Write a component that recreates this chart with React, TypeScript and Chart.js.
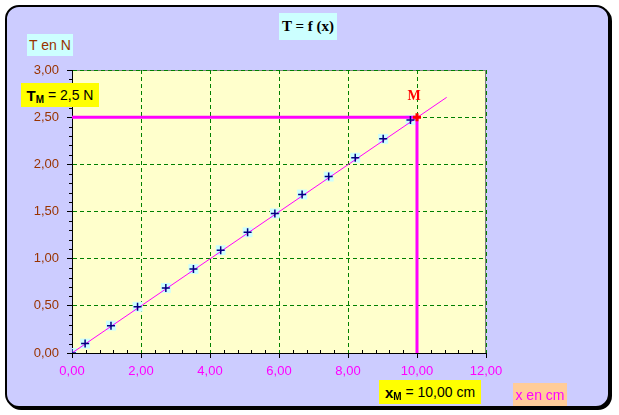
import React, { useEffect, useRef } from "react";
import { Chart, registerables } from "chart.js";

Chart.register(...registerables);

// ---- data ----
const xValues = [0, 0.38, 1.13, 1.9, 2.72, 3.52, 4.31, 5.09, 5.88, 6.67, 7.44, 8.21, 9.02, 9.81];
const tValues = [0, 0.1, 0.29, 0.49, 0.69, 0.89, 1.09, 1.28, 1.48, 1.68, 1.87, 2.07, 2.27, 2.47];
const fitX = [0, 10.86];
const fitT = [0, 2.71];
const pointMx = 10;
const pointMt = 2.5;
const xMin = 0;
const xMax = 12;
const xStep = 2;
const xMinorStep = 0.4;
const yMin = 0;
const yMax = 3;
const yStep = 0.5;
const yMinorStep = 0.1;
const titleText = "T = f (x)";
const yAxisTitle = "T en N";
const xAxisTitle = "x en cm";
const tmLabel = "= 2,5 N";
const xmLabel = "= 10,00 cm";
const mLabel = "M";

const fmt = (v: number) => Number(v).toFixed(2).replace(".", ",");

const decorPlugin = {
  id: "decor",
  beforeDraw(chart: any) {
    const { ctx, chartArea: a } = chart;
    ctx.save();
    ctx.fillStyle = "#FFFFCC";
    ctx.fillRect(a.left, a.top, a.right - a.left, a.bottom - a.top);
    ctx.strokeStyle = "#808080";
    ctx.lineWidth = 1;
    ctx.beginPath();
    ctx.moveTo(a.left, Math.round(a.top) + 0.5);
    ctx.lineTo(a.right, Math.round(a.top) + 0.5);
    ctx.stroke();
    ctx.restore();
  },
  beforeDatasetsDraw(chart: any) {
    const { ctx, chartArea: a, scales } = chart;
    const xs = scales.x;
    const ys = scales.y;
    ctx.save();
    ctx.strokeStyle = "#808080";
    ctx.lineWidth = 1;
    ctx.beginPath();
    ctx.moveTo(Math.round(a.right) - 0.5, a.top);
    ctx.lineTo(Math.round(a.right) - 0.5, a.bottom);
    ctx.stroke();
    ctx.strokeStyle = "#000";
    ctx.beginPath();
    const nY = Math.round((yMax - yMin) / yMinorStep);
    const perY = Math.round(yStep / yMinorStep);
    for (let i = 0; i <= nY; i++) {
      if (i % perY === 0) continue;
      const py = Math.round(ys.getPixelForValue(yMin + i * yMinorStep)) + 0.5;
      ctx.moveTo(a.left - 3, py);
      ctx.lineTo(a.left, py);
    }
    const nX = Math.round((xMax - xMin) / xMinorStep);
    const perX = Math.round(xStep / xMinorStep);
    for (let i = 0; i <= nX; i++) {
      if (i % perX === 0) continue;
      const px = Math.round(xs.getPixelForValue(xMin + i * xMinorStep)) + 0.5;
      ctx.moveTo(px, a.bottom - 3);
      ctx.lineTo(px, a.bottom);
    }
    ctx.stroke();
    ctx.restore();
  },
  afterDatasetsDraw(chart: any) {
    const { ctx, scales } = chart;
    const px = scales.x.getPixelForValue(pointMx);
    const py = scales.y.getPixelForValue(pointMt);
    ctx.save();
    ctx.fillStyle = "#FF0000";
    ctx.font = "bold 14px 'Liberation Serif', 'Times New Roman', serif";
    ctx.textAlign = "center";
    ctx.textBaseline = "alphabetic";
    ctx.fillText(mLabel, px - 3, py - 17);
    ctx.restore();
  },
};

export default function App() {
  const canvasRef = useRef<HTMLCanvasElement | null>(null);

  useEffect(() => {
    const canvas = canvasRef.current;
    if (!canvas) return;
    const pts = xValues.map((x, i) => ({ x, y: tValues[i] }));
    const pts2 = xValues.map((x, i) => ({ x, y: tValues[i] }));
    const fit = fitX.map((x, i) => ({ x, y: fitT[i] }));
    const guide = [
      { x: xMin, y: pointMt },
      { x: pointMx, y: pointMt },
      { x: pointMx, y: yMin },
    ];
    const tickFont = { family: "'Liberation Sans', Arial, sans-serif", size: 13 };
    const chart = new Chart(canvas, {
      type: "scatter",
      data: {
        datasets: [
          {
            data: [{ x: pointMx, y: pointMt }],
            pointStyle: "cross",
            pointRadius: 4,
            pointBorderColor: "#FF0000",
            pointBorderWidth: 3,
            backgroundColor: "rgba(0,0,0,0)",
            fill: false,
            order: 1,
          } as any,
          {
            data: pts,
            pointStyle: "cross",
            pointRadius: 4,
            pointBorderColor: "#000080",
            pointBorderWidth: 1.5,
            backgroundColor: "rgba(0,0,0,0)",
            fill: false,
            order: 2,
          },
          {
            data: guide,
            showLine: true,
            fill: false,
            pointRadius: 0,
            borderColor: "#FF00FF",
            backgroundColor: "rgba(0,0,0,0)",
            borderWidth: 3,
            clip: false,
            order: 3,
          },
          {
            data: fit,
            showLine: true,
            fill: false,
            pointRadius: 0,
            borderColor: "#FF00FF",
            backgroundColor: "rgba(0,0,0,0)",
            borderWidth: 1,
            order: 4,
          },
          {
            data: pts2,
            pointStyle: "rect",
            pointRadius: 7,
            pointBackgroundColor: "#CCFFFF",
            pointBorderColor: "rgba(0,0,0,0)",
            pointBorderWidth: 0,
            backgroundColor: "#CCFFFF",
            fill: false,
            order: 5,
          },
        ],
      },
      options: {
        responsive: false,
        animation: false,
        events: [],
        layout: { padding: { left: 0, top: 70, right: 133, bottom: 0 } },
        plugins: {
          legend: { display: false },
          tooltip: { enabled: false },
          title: { display: false },
        },
        scales: {
          x: {
            type: "linear",
            min: xMin,
            max: xMax,
            afterFit: (s: any) => {
              s.height = 62;
            },
            grid: {
              color: "#008000",
              lineWidth: 1,
              tickLength: 5,
              tickColor: "#000",
              tickWidth: 1,
              tickBorderDash: [],
            },
            border: { display: true, color: "#000", width: 1, dash: [4, 3] },
            ticks: {
              stepSize: xStep,
              color: "#FF00FF",
              font: tickFont,
              padding: 6,
              maxRotation: 0,
              autoSkip: false,
              callback: (v: any) => fmt(v),
            },
          },
          y: {
            type: "linear",
            min: yMin,
            max: yMax,
            afterFit: (s: any) => {
              s.width = 72;
            },
            grid: {
              color: "#008000",
              lineWidth: 1,
              tickLength: 5,
              tickColor: "#000",
              tickWidth: 1,
              tickBorderDash: [],
            },
            border: { display: true, color: "#000", width: 1, dash: [4, 3] },
            ticks: {
              stepSize: yStep,
              color: "#993300",
              font: tickFont,
              padding: 8,
              autoSkip: false,
              callback: (v: any) => fmt(v),
            },
          },
        },
      } as any,
      plugins: [decorPlugin],
    });
    return () => chart.destroy();
  }, []);

  const box = (extra: React.CSSProperties): React.CSSProperties => ({
    position: "absolute",
    boxSizing: "border-box",
    display: "flex",
    alignItems: "center",
    justifyContent: "center",
    whiteSpace: "nowrap",
    fontFamily: "'Liberation Sans', Arial, sans-serif",
    ...extra,
  });

  return (
    <div style={{ position: "fixed", left: 0, top: 0, width: 619, height: 415, overflow: "hidden" }}>
      <div
        style={{
          position: "absolute",
          left: 5,
          top: 5,
          width: 605,
          height: 403,
          boxSizing: "border-box",
          border: "2px solid #000",
          borderRadius: 14,
          background: "#CCCCFF",
          boxShadow: "2px 2px 0 #000",
        }}
      />
      <canvas
        ref={canvasRef}
        width={619}
        height={415}
        style={{ position: "absolute", left: 0, top: 0, width: 619, height: 415 }}
      />
      <div
        style={box({
          left: 279,
          top: 13,
          width: 58,
          height: 27,
          background: "#CCFFFF",
          fontFamily: "'Liberation Serif', 'Times New Roman', serif",
          fontWeight: "bold",
          fontSize: 15,
          color: "#000",
        })}
      >
        {titleText}
      </div>
      <div
        style={box({
          left: 27,
          top: 34,
          width: 46,
          height: 22,
          background: "#CCFFFF",
          fontSize: 14,
          color: "#993300",
        })}
      >
        {yAxisTitle}
      </div>
      <div
        style={box({
          left: 21,
          top: 83,
          width: 78,
          height: 24,
          background: "#FFFF00",
          fontSize: 14,
          color: "#000",
        })}
      >
        <span style={{ fontWeight: "bold", fontSize: 15 }}>T</span>
        <span style={{ fontWeight: "bold", fontSize: 10, position: "relative", top: 4 }}>M</span>
        <span>&nbsp;{tmLabel}</span>
      </div>
      <div
        style={box({
          left: 379,
          top: 380,
          width: 102,
          height: 24,
          background: "#FFFF00",
          fontSize: 14,
          color: "#000",
        })}
      >
        <span style={{ fontWeight: "bold", fontSize: 15 }}>x</span>
        <span style={{ fontWeight: "bold", fontSize: 10, position: "relative", top: 4 }}>M</span>
        <span>&nbsp;{xmLabel}</span>
      </div>
      <div
        style={box({
          left: 513,
          top: 383,
          width: 54,
          height: 23,
          background: "#FFCC99",
          fontSize: 14,
          color: "#FF00FF",
        })}
      >
        {xAxisTitle}
      </div>
    </div>
  );
}
